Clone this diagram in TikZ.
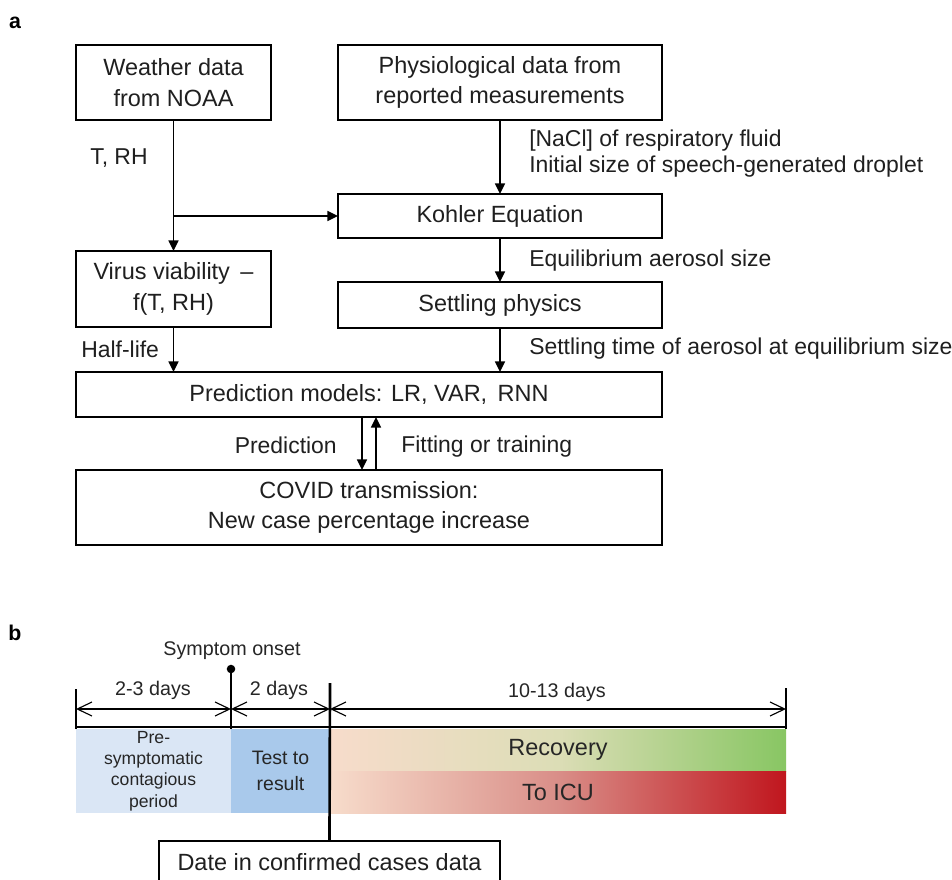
\documentclass[tikz,border=0pt]{standalone}
\usepackage{fontspec}
\setmainfont{Liberation Sans}
\usetikzlibrary{arrows.meta,calc}
\definecolor{preblue}{HTML}{DAE6F5}
\definecolor{testblue}{HTML}{A9C9EB}
\definecolor{peach}{HTML}{F7DCCB}
\definecolor{recmid}{HTML}{DCDDB6}
\definecolor{recgreen}{HTML}{88C663}
\definecolor{icumid}{HTML}{D98E88}
\definecolor{icured}{HTML}{C0161E}
\begin{document}
\begin{tikzpicture}[x=0.75pt,y=-0.75pt,
  box/.style={draw, line width=1.25pt, inner sep=0pt, outer sep=0pt, align=center, text=black!88, font=\fontsize{17.6}{23}\selectfont},
  arr/.style={line width=1.2pt, -{Triangle[length=8pt,width=7.5pt]}},
  lbl/.style={anchor=west, inner sep=0pt, text=black!88, font=\fontsize{17.2}{22}\selectfont},
  panel/.style={inner sep=0pt, font=\bfseries\fontsize{16}{16}\selectfont},
  seg/.style={inner sep=0pt, outer sep=0pt, align=center, text=black!85},
  tickline/.style={line width=2pt},
  dim/.style={line width=0.85pt, {Straight Barb[length=11pt,width=10.5pt]}-{Straight Barb[length=11pt,width=10.5pt]}},
  dimlbl/.style={inner sep=0pt, font=\fontsize{14.8}{18}\selectfont, text=black!85}]
\useasboundingbox (0,0) rectangle (952,880);
\clip (0,0) rectangle (952,880);
\fill[white] (0,0) rectangle (952,880);

% ---------- panel a ----------
\node[panel] (la) at (15,23) {a};
\node[box, minimum width=146.25pt, minimum height=56.25pt] (weather) at (173.5,82.5) {Weather data\\from NOAA};
\node[box, minimum width=243pt, minimum height=56.25pt] (phys) at (500,82.5) {Physiological data from\\reported measurements};
\node[box, minimum width=243pt, minimum height=33pt] (kohler) at (500,216) {Kohler Equation};
\node[box, minimum width=146.25pt, minimum height=57pt] (virus) at (173.5,289) {Virus viability \,–\\f(T, RH)};
\node[box, minimum width=243pt, minimum height=34.5pt] (settle) at (500,305) {Settling physics};
\node[box, minimum width=439.5pt, minimum height=33.75pt] (pred) at (369,394.5) {Prediction models: LR, VAR, \,RNN};
\node[box, minimum width=439.5pt, minimum height=56.25pt] (covid) at (369,507.5) {COVID transmission:\\New case percentage increase};

\draw[arr] (weather.south) -- (virus.north);
\coordinate (junc) at (weather.south |- kohler.west);
\draw[arr] (junc) -- (kohler.west);
\draw[arr] (phys.south) -- (kohler.north);
\draw[arr] (kohler.south) -- (settle.north);
\draw[arr] (settle.south) -- (settle.south |- pred.north);
\draw[arr] (virus.south) -- (virus.south |- pred.north);
\draw[arr] ([xshift=-5.25pt]pred.south) -- ([xshift=-5.25pt]covid.north);
\draw[arr] ([xshift=5.25pt]covid.north) -- ([xshift=5.25pt]pred.south);

\node[lbl] (trh) at (90,158) {T, RH};
\node[lbl] (nacl) at (529,141) {[NaCl] of respiratory fluid};
\node[lbl] (init) at (529,167) {Initial size of speech-generated droplet};
\node[lbl] (eq) at (529,261) {Equilibrium aerosol size};
\node[lbl] (half) at (81,349) {Half-life};
\node[lbl] (settime) at (529,349) {Settling time of aerosol at equilibrium size};
\node[lbl, anchor=east] (predl) at (337,445) {Prediction};
\node[lbl] (fitl) at (401,447) {Fitting or training};

% ---------- panel b ----------
\node[panel] (lb) at (15,633) {b};

\node[seg, minimum width=116.25pt, minimum height=63pt, fill=preblue, font=\fontsize{13.2}{16}\selectfont] (pre) at (153.5,771) {Pre-\\symptomatic\\contagious\\period};
\node[seg, minimum width=74.25pt, minimum height=63pt, fill=testblue, font=\fontsize{14.6}{19}\selectfont] (test) at (280.5,771) {Test to\\result};
\node[seg, minimum width=342pt, minimum height=31.5pt, left color=peach, right color=recgreen, middle color=recmid, font=\fontsize{17.6}{20}\selectfont] (rec) at (558,750) {Recovery};
\node[seg, minimum width=342pt, minimum height=31.5pt, left color=peach, right color=icured, middle color=icumid, font=\fontsize{17.6}{20}\selectfont] (icu) at (558,792) {To ICU};

\node[box, minimum width=255.75pt, minimum height=32.25pt] (date) at (329.5,862.5) {Date in confirmed cases data};

\node[dimlbl] (onset) at (232,651) {Symptom onset};
\coordinate (dot) at (231,669);
\fill (dot) circle (3.2pt);

\coordinate (ltop) at (76,689);
\coordinate (lbot) at (76,728.5);
\coordinate (sbot) at (231,728.5);
\coordinate (mtop) at (330,683);
\coordinate (rtop) at (786,688);
\coordinate (rbot) at (786,728.5);
\coordinate (base0) at (75,727);
\coordinate (base1) at (787,727);

\draw[tickline] (base0) -- (base1);
\draw[tickline] (ltop) -- (lbot);
\draw[tickline] (dot) -- (sbot);
\draw[tickline] (mtop) -- (date.north);
\draw[tickline] (rtop) -- (rbot);

\coordinate (d0) at (76,709);
\coordinate (d1) at (231,709);
\coordinate (d2) at (330,709);
\coordinate (d3) at (786,709);
\draw[dim] (d0) -- (d1);
\draw[dim] (d1) -- (d2);
\draw[dim] (d2) -- (d3);

\node[dimlbl] (l23) at (153,690) {2-3 days};
\node[dimlbl] (l2) at (279,690) {2 days};
\node[dimlbl] (l1013) at (557,692) {10-13 days};
\end{tikzpicture}
\end{document}
